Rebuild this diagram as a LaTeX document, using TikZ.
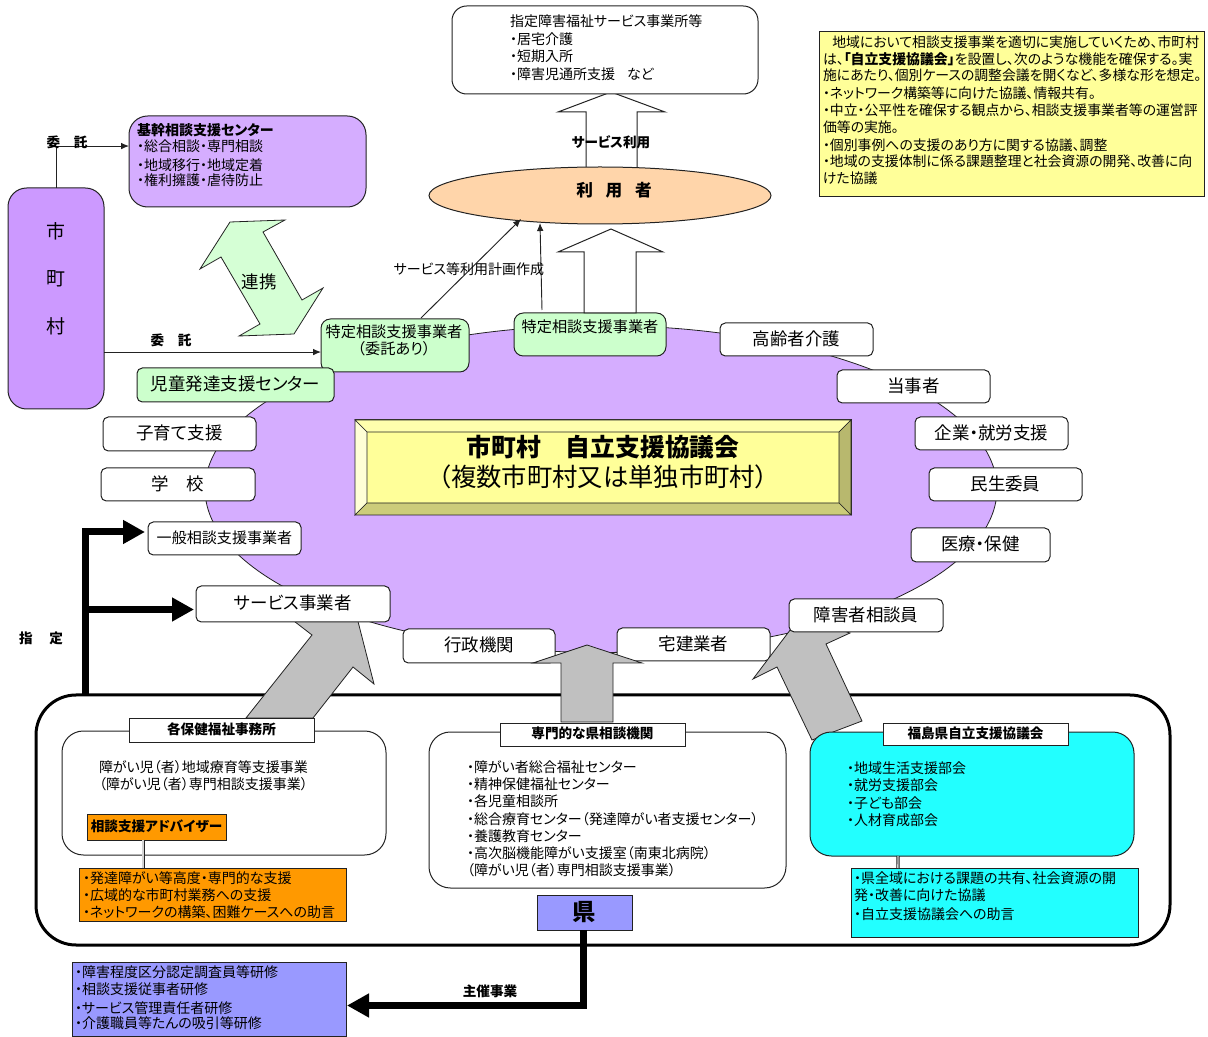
\documentclass[tikz,border=0pt]{standalone}
\usepackage{fontspec}
\setmainfont[RawFeature={+palt}]{Noto Sans CJK JP}
\usetikzlibrary{shapes.geometric,arrows.meta,calc}
\definecolor{edge}{HTML}{222222}
\definecolor{purpleA}{HTML}{CC99FF}
\definecolor{purpleB}{HTML}{D5ADFF}
\definecolor{greenA}{HTML}{CCFFCC}
\definecolor{greenB}{HTML}{D5FFD5}
\definecolor{yellowA}{HTML}{FFFF99}
\definecolor{orangeA}{HTML}{FF9900}
\definecolor{blueA}{HTML}{9999FF}
\definecolor{cyanA}{HTML}{22FFFF}
\definecolor{peachA}{HTML}{FFD5AA}
\definecolor{grayA}{HTML}{C0C0C0}
\tikzset{
 basebox/.style={draw=edge,line width=0.75pt,inner sep=0pt,outer sep=0pt,align=center},
 rbox/.style={basebox,rounded corners=4pt,fill=white},
 bigr/.style={basebox,rounded corners=14pt,fill=white},
 sbox/.style={basebox,fill=white},
 tb/.style={inner sep=0pt,outer sep=0pt,align=left,anchor=north west},
 tc/.style={inner sep=0pt,outer sep=0pt,align=center},
 fs/.style={font=\fontsize{10.5pt}{12.75pt}\selectfont},
 fsn/.style={font=\fontsize{10.4pt}{12.6pt}\selectfont},
 fl/.style={font=\fontsize{13.1pt}{14pt}\selectfont},
 fb/.style={font=\fontsize{10.2pt}{12pt}\selectfont\bfseries},
 thin arrow/.style={draw=edge,line width=0.7pt,-{Latex[length=6pt,width=5pt]}},
 thick arrow/.style={draw=black,line width=5.25pt,-{Triangle[length=16.5pt,width=17pt]}},
 double link/.style={draw=edge,line width=0.6pt,double=grayA!70!white,double distance=1.1pt},
 gray arrow/.style={draw=edge,line width=0.6pt,fill=grayA},
 white arrow/.style={draw=edge,line width=0.75pt,fill=white},
}
\newcommand\bx[7][]{%
 \pgfmathsetmacro\bxw{#5-#3}\pgfmathsetmacro\bxh{#6-#4}%
 \pgfmathsetmacro\bxx{(#3+#5)/2}\pgfmathsetmacro\bxy{(#4+#6)/2}%
 \node[basebox,#1,minimum width=\bxw*0.75pt,minimum height=\bxh*0.75pt] (#2) at (\bxx,\bxy) {\raisebox{2.4pt}{#7}};}
\begin{document}
\begin{tikzpicture}[x=0.75pt,y=-0.75pt]
\useasboundingbox (0,0) rectangle (1208,1037);

% outer frame of the prefecture
\bx[bigr,draw=black,line width=2.25pt,rounded corners=30pt]{pref}{36}{695}{1170}{945}{}

% central ellipse
\node[draw=edge,line width=0.6pt,fill=purpleB,ellipse,inner sep=0pt,minimum width=792*0.75pt,minimum height=327*0.75pt] (council) at (601,489) {};

% boxes lying under the gray arrows
\bx[rbox,fl]{gyosei}{403}{629}{555}{663}{行政機関}
\bx[rbox,fl]{takken}{617}{628}{770}{661}{宅建業者}

% gray arrows
\path[gray arrow] (246,718) -- (312,635) -- (290,618) -- (352,598) -- (374,684) -- (353,667) -- (313,718) -- cycle;
\path[gray arrow] (561,722) -- (561,663) -- (533,663) -- (587,645) -- (642,663) -- (613,663) -- (613,722) -- cycle;
\path[gray arrow] (812,740) -- (777,667) -- (753,679) -- (800,617) -- (850,633) -- (826,644) -- (862,721) -- cycle;

% thick connectors of the designation
\bx[rbox,font=\fontsize{11.3pt}{13pt}\selectfont]{ippan}{148}{522}{301}{555}{一般相談支援事業者}
\bx[rbox,fl]{service}{196}{586}{390}{622}{サービス事業者}
\coordinate (shiteiA) at (145,532);
\coordinate (shiteiB) at (194,609.5);
\coordinate (shiteiO) at (85.5,695);
\draw[thick arrow] (shiteiO) |- (shiteiA);
\draw[thick arrow] (shiteiO |- shiteiB) -- (shiteiB);
\node[tc,fb] (shiteiL) at (41,638) {指　 定};

% municipalities
\bx[bigr,fill=purpleA]{shi}{8}{188}{104}{409}{}
\node[tc,font=\fontsize{14.2pt}{35.6pt}\selectfont] (shiL) at (56,278.5) {市\\町\\村};
\bx[bigr,fill=purpleB]{kikan}{129}{116}{366}{207}{}
\node[tb,fs] (kikanL) at (137,123.5) {{\bfseries 基幹相談支援センター}\\[-1pt]・総合相談・専門相談\\[1.6pt]・地域移行・地域定着\\[-1pt]・権利擁護・虐待防止};
\bx[rbox,fill=greenA,rounded corners=7pt]{tok1}{321}{319}{469}{372}{}
\node[tc,font=\fontsize{11.4pt}{12.75pt}\selectfont] (tok1L) at (394,340) {特定相談支援事業者\\（委託あり）};
\bx[rbox,fill=greenA,rounded corners=7pt]{tok2}{514}{313}{666}{356}{}
\node[tc,font=\fontsize{11.4pt}{12.75pt}\selectfont] (tok2L) at (590,327) {特定相談支援事業者};
\bx[rbox,fill=greenA,fl]{jido}{137}{368}{334}{402}{児童発達支援センター}

\coordinate (kikanIn) at ([yshift=11.6pt]kikan.west);
\draw[thin arrow] (shi.north) |- (kikanIn);
\node[tc,fb] (itakuA) at (67,142) {委　託};
\coordinate (tokIn) at ([yshift=-4.9pt]tok1.west);
\draw[thin arrow] (tokIn -| shi.east) -- (tokIn);
\node[tc,fb] (itakuB) at (171,340) {委　託};

% cooperation arrow
\path[draw=edge,line width=0.6pt,fill=greenB] (230,222) -- (285,220) -- (263,232) -- (302,300) -- (323,288) -- (294,334) -- (239,336) -- (260,324) -- (221,257) -- (200,269) -- cycle;
\node[tc,fl] (renkei) at (259,282) {連携};

% white boxes round the ellipse
\bx[rbox,fl]{kourei}{720}{323}{873}{356}{高齢者介護}
\bx[rbox,fl]{tojisha}{837}{370}{990}{403}{当事者}
\bx[rbox,fl]{kigyo}{915}{417}{1068}{450}{企業・就労支援}
\bx[rbox,fl]{minsei}{929}{468}{1082}{501}{民生委員}
\bx[rbox,fl]{iryo}{911}{528}{1050}{562}{医療・保健}
\bx[rbox,fl]{soudan}{789}{599}{943}{632}{障害者相談員}
\bx[rbox,fl]{gakko}{101}{468}{255}{501}{学　校}
\bx[rbox,fl]{kosodate}{103}{417}{256}{451}{子育て支援}

% bevelled central plate
\path[draw=edge,line width=0.75pt,fill=yellowA] (355,420) rectangle (851,515);
\path[draw=edge,line width=0.5pt,fill=yellowA!80!white] (355,420) -- (851,420) -- (839,432) -- (367,432) -- cycle;
\path[draw=edge,line width=0.5pt,fill=yellowA!40!white] (355,420) -- (367,432) -- (367,503) -- (355,515) -- cycle;
\path[draw=edge,line width=0.5pt,fill=yellowA!60!black!70!yellowA] (851,420) -- (839,432) -- (839,503) -- (851,515) -- cycle;
\path[draw=edge,line width=0.5pt,fill=yellowA!80!black] (355,515) -- (367,503) -- (839,503) -- (851,515) -- cycle;
\node[tc,font=\fontsize{18.6pt}{22pt}\selectfont\bfseries] (plateA) at (603,447) {市町村　自立支援協議会};
\node[tc,font=\fontsize{19pt}{22pt}\selectfont] (plateB) at (603,477) {（複数市町村又は単独市町村）};

% users and services
\path[white arrow] (586,169) -- (586,112) -- (558,112) -- (611,92) -- (665,112) -- (637,112) -- (637,169) -- cycle;
\path[white arrow] (584,313) -- (584,252) -- (558,252) -- (611,229) -- (663,252) -- (636,252) -- (636,313) -- cycle;
\bx[rbox,rounded corners=11pt]{jigyo}{452}{6}{758}{94}{}
\node[tb,fs] (jigyoL) at (510,14.5) {指定障害福祉サービス事業所等\\[.6pt]・居宅介護\\[.6pt]・短期入所\\[.6pt]・障害児通所支援\hspace{9pt}など};
\node[draw=edge,line width=0.75pt,fill=peachA,ellipse,inner sep=0pt,minimum width=342*0.75pt,minimum height=57*0.75pt] (riyo) at (600,195.5) {};
\node[tc,font=\fontsize{12.5pt}{14pt}\selectfont\bfseries] (riyoL) at (614,190) {利\hspace{9.5pt}用\hspace{9.5pt}者};
\node[tc,fb] (useL) at (611,142) {サービス利用};
\coordinate (planA) at (421,318);
\coordinate (planB) at (521,219);
\coordinate (planC) at (542,310);
\coordinate (planD) at (540,223);
\draw[thin arrow] (planA) -- (planB);
\draw[thin arrow] (planC) -- (planD);
\node[tc,fs] (planL) at (469,269) {サービス等利用計画作成};

% note
\bx[sbox,fill=yellowA]{note}{819}{32}{1204}{197}{}
\node[tb,fsn] (noteL) at (823,35.5) {\hspace{7pt}地域において相談支援事業を適切に実施していくため、市町村\\は、{\bfseries「自立支援協議会」}を設置し、次のような機能を確保する。実\\施にあたり、個別ケースの調整会議を開くなど、多様な形を想定。\\[.8pt]・ネットワーク構築等に向けた協議、情報共有。\\・中立・公平性を確保する観点から、相談支援事業者等の運営評\\価等の実施。\\[.8pt]・個別事例への支援のあり方に関する協議、調整\\・地域の支援体制に係る課題整理と社会資源の開発、改善に向\\けた協議};

% health offices
\bx[bigr,rounded corners=16pt]{hoken}{62}{731}{386}{855}{}
\bx[sbox,fb]{hokenT}{129}{718}{314}{742}{各保健福祉事務所}
\node[tb,fs] (hokenL) at (99,761) {障がい児（者）地域療育等支援事業\\（障がい児（者）専門相談支援事業）};
\bx[sbox,fill=orangeA,fb]{adv}{87}{814}{226}{840}{相談支援アドバイザー}
\bx[sbox,fill=orangeA]{advnote}{79}{868}{346}{921}{}
\node[tb,fs] (advL) at (83,871.3) {・発達障がい等高度・専門的な支援\\・広域的な市町村業務への支援\\・ネットワークの構築、困難ケースへの助言};
\draw[double link] ([xshift=-10.1pt]adv.south) -- ([xshift=-52.1pt]advnote.north);

% prefectural agencies
\bx[bigr,rounded corners=16pt]{senmon}{429}{732}{786}{888}{}
\bx[sbox,fb]{senmonT}{500}{723}{685}{746}{専門的な県相談機関}
\node[tb,fs] (senmonL) at (467,760.7) {・障がい者総合福祉センター\\・精神保健福祉センター\\・各児童相談所\\[.6pt]・総合療育センター（発達障がい者支援センター）\\・養護教育センター\\・高次脳機能障がい支援室（南東北病院）\\（障がい児（者）専門相談支援事業）};

% Fukushima council
\bx[bigr,fill=cyanA,rounded corners=16pt]{fuku}{810}{732}{1134}{856}{}
\bx[sbox,fb]{fukuT}{883}{723}{1068}{745}{福島県自立支援協議会}
\node[tb,fs] (fukuL) at (847,761.7) {・地域生活支援部会\\・就労支援部会\\[.8pt]・子ども部会\\・人材育成部会};
\bx[sbox,fill=cyanA]{fuknote}{851}{868}{1138}{937}{}
\node[tb,fs] (fuknoteL) at (854,872.2) {・県全域における課題の共有、社会資源の開\\発・改善に向けた協議\\[.8pt]・自立支援協議会への助言};
\draw[double link] ([xshift=-55.5pt]fuku.south) -- ([xshift=-72.4pt]fuknote.north);

% prefecture
\bx[sbox,fill=blueA,font=\fontsize{17.5pt}{20pt}\selectfont\bfseries]{ken}{537}{895}{632}{930}{県}
\bx[sbox,fill=blueA]{kensyu}{72}{962}{346}{1036}{}
\node[tb,fs] (kensyuL) at (75,965.5) {・障害程度区分認定調査員等研修\\・相談支援従事者研修\\[1.6pt]・サービス管理責任者研修\\[-1.1pt]・介護職員等たんの吸引等研修};
\coordinate (kenIn) at (347,1005.5);
\coordinate (kenOut) at (583,930);
\draw[thick arrow] (kenOut) |- (kenIn);
\node[tc,fb] (shusai) at (490,991) {主催事業};
\end{tikzpicture}
\end{document}
